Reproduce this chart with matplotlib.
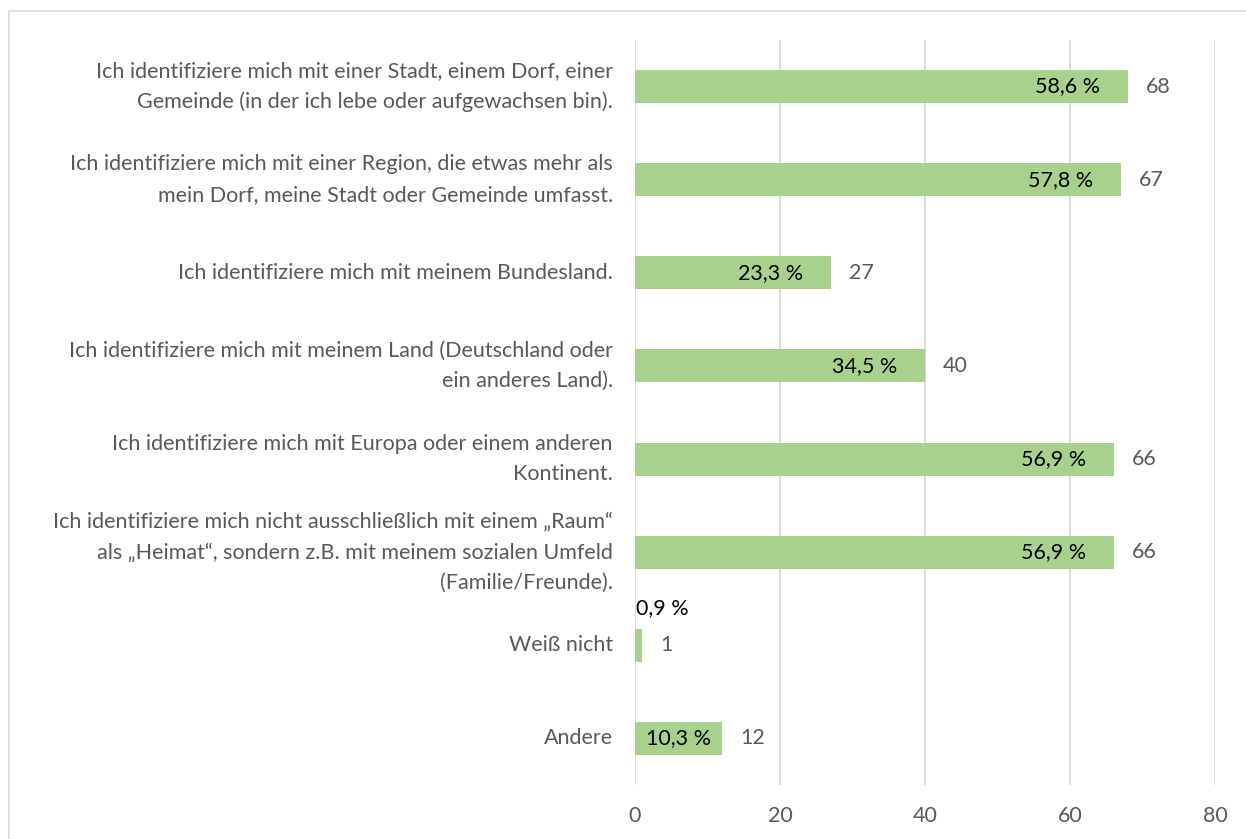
import matplotlib
matplotlib.use("Agg")
import matplotlib.pyplot as plt
from matplotlib.patches import Rectangle

# ---------------------------------------------------------------------------
# Data
# ---------------------------------------------------------------------------
labels = [
    "Ich identifiziere mich mit einer Stadt, einem Dorf, einer\nGemeinde (in der ich lebe oder aufgewachsen bin).",
    "Ich identifiziere mich mit einer Region, die etwas mehr als\nmein Dorf, meine Stadt oder Gemeinde umfasst.",
    "Ich identifiziere mich mit meinem Bundesland.",
    "Ich identifiziere mich mit meinem Land (Deutschland oder\nein anderes Land).",
    "Ich identifiziere mich mit Europa oder einem anderen\nKontinent.",
    "Ich identifiziere mich nicht ausschließlich mit einem „Raum“\nals „Heimat“, sondern z.B. mit meinem sozialen Umfeld\n(Familie/Freunde).",
    "Weiß nicht",
    "Andere",
]
counts = [68, 67, 27, 40, 66, 66, 1, 12]
percents = ["58,6 %", "57,8 %", "23,3 %", "34,5 %", "56,9 %", "56,9 %", "0,9 %", "10,3 %"]
xticks = [0, 20, 40, 60, 80]

GREEN = "#A9D18E"
GRAY = "#595959"
GRID = "#D9D9D9"
FS = 15.5

plt.rcParams["font.family"] = ["Lato", "DejaVu Sans"]

fig = plt.figure(figsize=(12.46, 8.39), dpi=100)
ax = fig.add_axes([635 / 1246, 1 - 785 / 839, 580 / 1246, 745 / 839])

# outer chart border (cut off at right/bottom like the screenshot)
fig.patches.append(Rectangle((9 / 1246, -0.05), 1.2, 1 - 11 / 839 + 0.05,
                             transform=fig.transFigure, fill=False,
                             edgecolor=GRID, linewidth=1.2))

y = list(range(len(labels)))
ax.barh(y, counts, height=0.355, color=GREEN, zorder=2)

ax.set_xlim(0, 80)
ax.set_ylim(len(labels) - 0.5, -0.5)
ax.set_xticks(xticks)
ax.set_yticks(y)
ax.set_yticklabels(labels, fontsize=FS, color=GRAY, linespacing=1.65, va="center")
ax.tick_params(axis="y", length=0, pad=16)
ax.tick_params(axis="x", length=0, pad=15, labelsize=FS, labelcolor=GRAY)
ax.grid(axis="x", color=GRID, linewidth=1.3, zorder=0)
for side in ("top", "right", "bottom", "left"):
    ax.spines[side].set_visible(False)

for i, (c, p) in enumerate(zip(counts, percents)):
    ax.annotate(str(c), (c, i), xytext=(13, 0), textcoords="offset points",
                va="center", ha="left", fontsize=FS, color=GRAY)
    if c < 3:
        ax.annotate(p, (0, i), xytext=(1, 27), textcoords="offset points",
                    va="center", ha="left", fontsize=FS, color="black")
    elif c < 20:
        ax.text(c / 2, i, p, va="center", ha="center", fontsize=FS, color="black")
    else:
        ax.annotate(p, (c, i), xytext=(-20, 0), textcoords="offset points",
                    va="center", ha="right", fontsize=FS, color="black")

fig.savefig("out.png", dpi=100)
